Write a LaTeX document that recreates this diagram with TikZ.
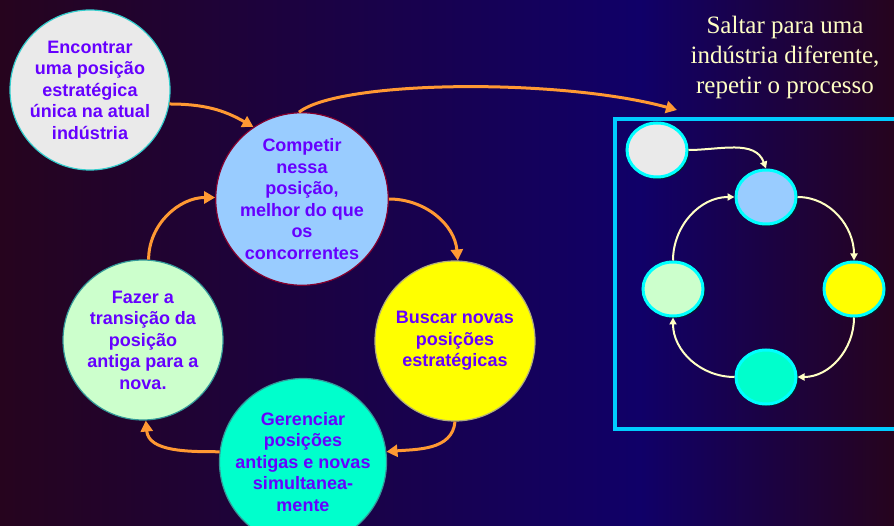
\documentclass[tikz,border=0pt]{standalone}
\usepackage{fontspec}
\setmainfont{Liberation Serif}
\setsansfont{Liberation Sans}
\usetikzlibrary{arrows.meta, shapes.geometric, shadows}

\definecolor{bgred}{RGB}{38,4,30}
\definecolor{bgblue}{RGB}{16,0,104}
\definecolor{txtviolet}{RGB}{102,0,255}
\definecolor{arrorange}{RGB}{255,153,51}
\definecolor{cream}{RGB}{255,255,196}
\definecolor{boxcyan}{RGB}{0,204,255}
\definecolor{ringcyan}{RGB}{0,255,255}
\definecolor{fillgray}{RGB}{234,234,234}
\definecolor{fillblue}{RGB}{153,204,255}
\definecolor{fillyellow}{RGB}{255,255,0}
\definecolor{filllime}{RGB}{204,255,204}
\definecolor{fillteal}{RGB}{0,255,204}

\tikzset{
  stage/.style={circle, minimum size=160pt, inner sep=0pt, align=center,
    text=txtviolet, font=\sffamily\bfseries\fontsize{18}{21.5}\selectfont,
    draw=#1, line width=1.2pt},
  dot/.style={ellipse, minimum width=60pt, minimum height=54pt, draw=ringcyan,
    line width=3pt, fill=#1,
    drop shadow={fill=black!70!teal, opacity=1, shadow xshift=2pt, shadow yshift=-2pt}},
  flow/.style={draw=arrorange, line width=3pt, -{Triangle[length=11pt,width=12pt]}},
  cycle/.style={draw=cream, line width=2pt, -{Triangle[length=7pt,width=7pt]}}
}

\begin{document}
\begin{tikzpicture}[x=1pt, y=-1pt]
    \useasboundingbox (0,0) rectangle (894,526);

    % Background
    \fill[left color=bgred, right color=bgblue] (0,0) rectangle (640,526);
    \fill[left color=bgblue, right color=bgred] (640,0) rectangle (894,526);

    % The strategy cycle
    \node[stage=ringcyan!60!gray, fill=fillgray] (find) at (90,90)
        {Encontrar\\uma posição\\estratégica\\única na atual\\indústria};
    \node[stage=purple!70!black, fill=fillblue] (compete) at (302,199)
        {Competir\\nessa\\posição,\\melhor do que\\os\\concorrentes};
    \node[stage=gray!70!yellow, fill=fillyellow] (seek) at (455,341)
        {Buscar novas\\posições\\estratégicas};
    \node[stage=teal!80!white, fill=fillteal] (manage) at (303,462)
        {Gerenciar\\posições\\antigas e novas\\simultanea-\\mente};
    \node[stage=teal!80!white, fill=filllime] (shift) at (143,340)
        {Fazer a\\transição da\\posição\\antiga para a\\nova.};

    \draw[flow] (find.-10) to[out=0, in=150] (compete.124);
    \draw[flow] (compete.0) to[out=0, in=95] (seek.88);
    \draw[flow] (seek.-90) to[out=-95, in=5] (manage.7);
    \draw[flow] (manage.173) to[out=180, in=-85] (shift.-88);
    \draw[flow] (shift.86) to[out=90, in=180] (compete.179);

    % Jump to another industry
    \node[font=\fontsize{25}{30}\selectfont, text=cream, align=center] (title) at (785,57)
        {Saltar para uma\\indústria diferente,\\repetir o processo};
    \coordinate (jump) at (677,110);
    \draw[flow] (compete.92) .. controls (340,80) and (560,78) .. (jump);

    \draw[boxcyan, line width=4pt] (615,119) rectangle (897,429);

    % Small repeated cycle
    \node[dot=fillgray] (find2) at (657,150) {};
    \node[dot=fillblue] (compete2) at (766,197) {};
    \node[dot=fillyellow] (seek2) at (854,289) {};
    \node[dot=fillteal] (manage2) at (766,377) {};
    \node[dot=filllime] (shift2) at (673,289) {};

    \draw[cycle] (find2.east) to[out=0, in=110] (compete2.north);
    \draw[cycle] (compete2.east) to[out=0, in=90] (seek2.north);
    \draw[cycle] (seek2.south) to[out=-90, in=0] (manage2.east);
    \draw[cycle] (manage2.west) to[out=180, in=-90] (shift2.south);
    \draw[cycle] (shift2.north) to[out=90, in=180] (compete2.west);
\end{tikzpicture}
\end{document}
